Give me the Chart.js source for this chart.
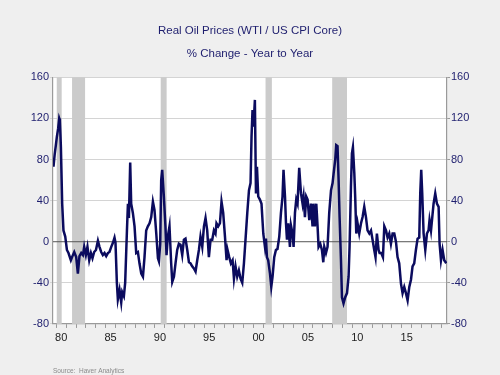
<!DOCTYPE html>
<html>
<head>
<meta charset="utf-8">
<script src="https://cdn.jsdelivr.net/npm/chart.js@4"></script>
<style>
  html, body { margin: 0; padding: 0; background: #efefef; }
  #wrap { width: 500px; height: 375px; }
</style>
</head>
<body>
<div id="wrap"><canvas id="oil" width="500" height="375"></canvas></div>
<script>
// decimal years (month positions)
var dates = [
  1979.72,1979.84,1979.96,1980.06,1980.19,1980.30,1980.37,1980.47,1980.60,1980.73,1980.91,
  1981.08,1981.24,1981.48,1981.64,1981.82,1982.02,1982.19,1982.35,1982.53,1982.70,1982.83,
  1983.00,1983.16,1983.34,1983.51,1983.67,1983.84,1984.02,1984.22,1984.38,1984.55,1984.72,1984.89,
  1985.06,1985.23,1985.39,1985.57,1985.74,1985.90,1986.00,1986.14,1986.24,1986.41,1986.58,1986.68,1986.85,1986.98,
  1987.16,1987.26,1987.36,1987.49,1987.59,1987.76,1987.93,1988.10,1988.27,1988.43,1988.61,1988.78,1988.94,
  1989.11,1989.28,1989.45,1989.62,1989.79,1989.95,1990.13,1990.30,1990.40,1990.53,1990.63,1990.73,1990.90,
  1991.06,1991.17,1991.30,1991.47,1991.64,1991.75,1991.92,1992.08,1992.25,1992.42,1992.59,1992.76,1992.93,
  1993.09,1993.27,1993.44,1993.60,1993.77,1993.94,1994.11,1994.28,1994.45,1994.61,1994.79,1994.96,
  1995.12,1995.29,1995.46,1995.63,1995.80,1995.97,1996.13,1996.23,1996.41,1996.58,1996.74,1996.91,
  1997.09,1997.25,1997.35,1997.52,1997.69,1997.86,1998.00,1998.16,1998.33,1998.50,1998.67,1998.84,
  1999.01,1999.17,1999.35,1999.52,1999.68,1999.78,1999.88,1999.98,2000.12,2000.23,2000.33,2000.46,2000.63,2000.79,2000.97,
  2001.14,2001.24,2001.34,2001.47,2001.65,2001.78,2001.91,2002.08,2002.25,2002.41,2002.59,2002.76,2002.92,
  2003.02,2003.17,2003.27,2003.37,2003.50,2003.67,2003.77,2003.93,2004.04,2004.18,2004.31,2004.44,2004.61,2004.79,2004.95,
  2005.05,2005.19,2005.32,2005.46,2005.63,2005.80,2005.96,2006.06,2006.20,2006.34,2006.47,2006.57,2006.74,2006.91,
  2007.05,2007.15,2007.32,2007.48,2007.65,2007.83,2007.99,2008.09,2008.26,2008.36,2008.49,2008.60,2008.70,2008.84,2008.94,
  2009.10,2009.27,2009.45,2009.61,2009.71,2009.85,2009.95,2010.05,2010.19,2010.29,2010.39,2010.52,2010.69,2010.87,
  2011.03,2011.20,2011.37,2011.53,2011.71,2011.88,2012.04,2012.21,2012.34,2012.48,2012.65,2012.75,2012.92,
  2013.09,2013.23,2013.40,2013.56,2013.73,2013.90,2014.07,2014.24,2014.41,2014.57,2014.74,2014.92,
  2015.08,2015.25,2015.42,2015.59,2015.76,2015.93,2016.09,2016.26,2016.43,2016.60,2016.77,2016.87,2016.97,
  2017.07,2017.21,2017.38,2017.55,2017.71,2017.81,2017.96,2018.09,2018.22,2018.39,2018.56,2018.73,2018.83,2018.97,
  2019.13,2019.30,2019.51
];
// real oil price, % change year to year
var realOilYoY = [
  73,85,94,102,110,120,118,92,37,11,5,
  -8,-11,-18,-14,-10,-15,-31,-14,-11,-13,-5,
  -13,-5,-18,-11,-16,-10,-8,1,-5,-10,-13,-11,
  -14,-11,-10,-5,-1,4,-1,-40,-56,-47,-59,-49,-53,-40,
  11,37,23,77,37,28,15,-11,-10,-21,-31,-34,-15,
  11,15,18,24,39,31,8,-16,-19,-2,60,70,44,
  15,-13,5,15,-21,-39,-34,-21,-8,-2,-3,-13,2,
  3,-8,-20,-21,-24,-26,-29,-18,-8,5,-5,15,
  23,11,-15,2,2,11,8,18,15,18,39,28,
  5,-18,-8,-15,-21,-18,-36,-24,-34,-28,-36,-40,
  -21,2,28,50,57,102,128,112,138,47,73,44,41,37,8,
  -5,3,-15,-18,-31,-44,-34,-15,-8,-7,5,28,44,
  70,44,18,2,18,-5,16,8,-5,28,41,37,72,47,37,
  44,24,44,41,21,37,15,37,15,37,15,-5,-2,-8,
  -20,-5,-11,-5,28,50,57,66,80,94,93,60,24,-18,-54,
  -60,-54,-50,-34,-5,53,86,92,67,41,8,18,8,18,
  24,34,24,11,8,11,2,-8,-15,8,-8,-11,-11,
  -15,15,11,4,8,-2,8,8,0,-15,-21,-41,
  -50,-44,-50,-57,-44,-37,-24,-21,-8,3,4,47,70,
  47,8,-8,8,11,21,11,24,37,47,37,34,-2,-18,
  -8,-18,-21
];
// recession shading (decimal years)
var recessionStarts = [1980.05, 1981.6, 1990.58, 2001.2, 2007.95];
var recessionEnds   = [1980.55, 1982.92, 1991.18, 2001.84, 2009.45];
var yTickValues = [-80, -40, 0, 40, 80, 120, 160];

var points = dates.map(function (d, i) { return { x: d, y: realOilYoY[i] }; });
var FONT = "'Liberation Sans', Arial, sans-serif";
var NAVY = "#1e1e6e";

// white plot background + grey recession bands
var shading = {
  id: "shading",
  beforeDraw: function (chart) {
    var a = chart.chartArea, ctx = chart.ctx;
    ctx.save();
    ctx.fillStyle = "#ffffff";
    ctx.fillRect(a.left, a.top, a.right - a.left, a.bottom - a.top);
    ctx.restore();
  },
  beforeDatasetsDraw: function (chart) {
    var a = chart.chartArea, ctx = chart.ctx, x = chart.scales.x;
    ctx.save();
    ctx.fillStyle = "#cbcbcb";
    for (var i = 0; i < recessionStarts.length; i++) {
      var x0 = x.getPixelForValue(recessionStarts[i]);
      var x1 = x.getPixelForValue(recessionEnds[i]);
      ctx.fillRect(x0, a.top, x1 - x0, a.bottom - a.top);
    }
    // zero line on top of bands
    var y0 = chart.scales.y.getPixelForValue(0);
    ctx.strokeStyle = "#555555";
    ctx.lineWidth = 1;
    ctx.beginPath();
    ctx.moveTo(a.left, y0);
    ctx.lineTo(a.right, y0);
    ctx.stroke();
    ctx.restore();
  }
};

var yTicks = {
  color: NAVY,
  font: { family: FONT, size: 11 },
  padding: 1
};

new Chart(document.getElementById("oil").getContext("2d"), {
  type: "line",
  data: {
    datasets: [{
      data: points,
      borderColor: "#0b0b5e",
      borderWidth: 2.5,
      pointRadius: 0,
      tension: 0,
      fill: false
    }]
  },
  plugins: [shading],
  options: {
    responsive: false,
    animation: false,
    layout: { padding: 0 },
    plugins: {
      legend: { display: false },
      tooltip: { enabled: false },
      title: {
        display: true,
        text: ["Real Oil Prices (WTI / US CPI Core)", "% Change - Year to Year"],
        color: NAVY,
        font: { family: FONT, size: 11.5, weight: "normal", lineHeight: 2.06 },
        padding: { top: 18.5, bottom: 11.4 }
      },
      subtitle: {
        display: true,
        position: "bottom",
        align: "start",
        fullSize: false,
        text: "Source:  Haver Analytics",
        color: "#8a8a8a",
        font: { family: FONT, size: 6.5, lineHeight: 1.3 },
        padding: { top: 0, bottom: 0 }
      }
    },
    scales: {
      x: {
        type: "linear",
        min: 1979.67,
        max: 2019.58,
        afterBuildTicks: function (scale) {
          var t = [];
          for (var yr = 1980; yr <= 2019; yr++) t.push({ value: yr });
          scale.ticks = t;
        },
        afterFit: function (scale) { scale.height = 42.6; },
        ticks: {
          autoSkip: false,
          maxRotation: 0,
          labelOffset: 4.9,
          padding: 3,
          color: "#222222",
          font: { family: FONT, size: 11 },
          callback: function (v) {
            if (v % 5 !== 0) return "";
            var s = String(v % 100);
            return s.length < 2 ? "0" + s : s;
          }
        },
        grid: { drawOnChartArea: false, tickLength: 4, color: "#9a9a9a" },
        border: { color: "#9a9a9a", width: 1.2 }
      },
      y: {
        position: "left",
        min: -80,
        max: 160,
        afterBuildTicks: function (scale) {
          scale.ticks = yTickValues.map(function (v) { return { value: v }; });
        },
        afterFit: function (scale) { scale.width = 53; },
        ticks: yTicks,
        grid: {
          color: function (c) { return c.tick && c.tick.value === 0 ? "rgba(0,0,0,0)" : "#d4d4d4"; },
          tickLength: 3,
          lineWidth: 1
        },
        border: { color: "#9a9a9a", width: 1.2 }
      },
      y2: {
        position: "right",
        min: -80,
        max: 160,
        afterBuildTicks: function (scale) {
          scale.ticks = yTickValues.map(function (v) { return { value: v }; });
        },
        afterFit: function (scale) { scale.width = 53; },
        ticks: yTicks,
        grid: { drawOnChartArea: false, tickLength: 3, color: "#9a9a9a" },
        border: { color: "#9a9a9a", width: 1.2 }
      }
    }
  }
});
</script>
</body>
</html>
